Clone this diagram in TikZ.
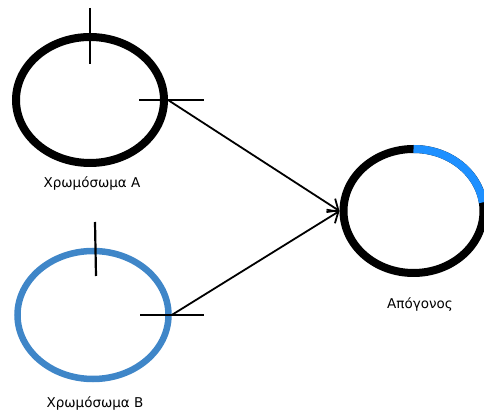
\documentclass[tikz,border=0pt]{standalone}
\usepackage{fontspec}
\setmainfont{DejaVu Sans}
\usetikzlibrary{shapes.geometric,arrows.meta}
\definecolor{chromB}{HTML}{3F86C8}
\definecolor{offblue}{HTML}{1E90FF}
\tikzset{
  chrom/.style={ellipse, draw, inner sep=0pt},
  tick/.style={draw=black, line width=2.2pt},
  conn/.style={draw=black, line width=1.8pt, -{Straight Barb[length=9pt,width=16pt,line width=1.8pt]}},
  lbl/.style={font=\fontsize{13.5}{15}\selectfont, inner sep=0pt}
}
\begin{document}
\begin{tikzpicture}[x=1pt,y=1pt]
\useasboundingbox (0,0) rectangle (484,412);
% chromosome A
\node[chrom, line width=8pt, minimum width=148pt, minimum height=126pt] (A) at (90,312) {};
% chromosome B
\node[chrom, draw=chromB, line width=6.5pt, minimum width=151pt, minimum height=128pt] (B) at (93,97) {};
% offspring
\node[chrom, line width=8pt, minimum width=140pt, minimum height=124pt] (O) at (413.5,201) {};
\draw[draw=offblue, line width=8pt] (O.center) ++(0,62) arc[start angle=90, end angle=8, x radius=70, y radius=62];
% ticks A
\coordinate (a1) at (90,404); \coordinate (a2) at (90,348);
\coordinate (a3) at (139,312); \coordinate (a4) at (204,312);
\draw[tick] (a1) -- (a2);
\draw[tick] (a3) -- (a4);
% ticks B
\coordinate (b1) at (95,190); \coordinate (b2) at (96,136);
\coordinate (b3) at (140,97); \coordinate (b4) at (204,97);
\draw[tick] (b1) -- (b2);
\draw[tick] (b3) -- (b4);
% connectors
\draw[conn] (A.east) -- (O.west);
\draw[conn] (B.east) -- (O.west);
% labels
\node[lbl] (la) at (92,228) {Χρωμόσωμα Α};
\node[lbl] (lb) at (95,8) {Χρωμόσωμα Β};
\node[lbl] (lo) at (420,107) {Απόγονος};
\end{tikzpicture}
\end{document}
